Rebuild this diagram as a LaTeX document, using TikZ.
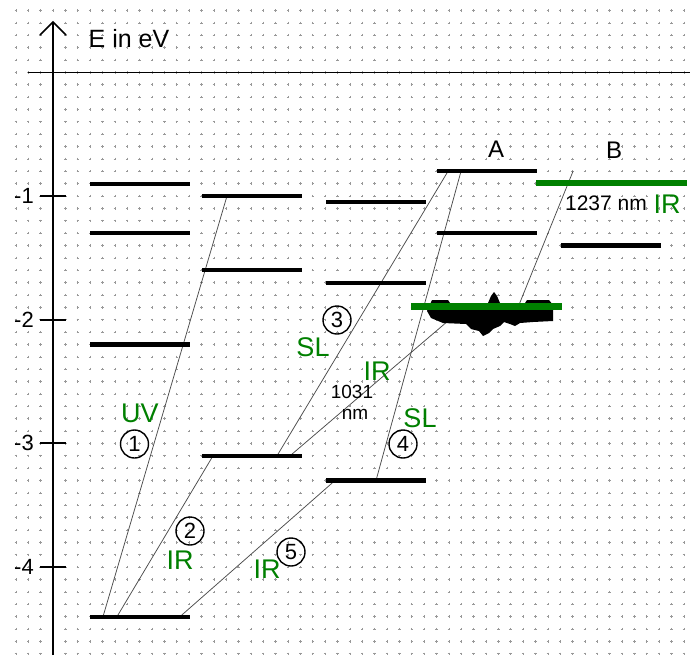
\documentclass[tikz,border=0pt]{standalone}
\usepackage{fontspec}
\setmainfont{Liberation Sans}
\definecolor{grn}{RGB}{0,128,0}
\begin{document}
\begin{tikzpicture}[x=1pt,y=-1pt,
  lvl/.style={draw=none,fill=black,inner sep=0pt,minimum width=100pt,minimum height=4.2pt},
  glvl/.style={draw=none,fill=grn,inner sep=0pt,minimum width=151pt,minimum height=6.5pt},
  trans/.style={line width=0.75pt,draw=black!70},
  glab/.style={text=grn,font=\fontsize{27}{27}\selectfont,inner sep=0pt},
  blab/.style={font=\fontsize{19}{19}\selectfont,inner sep=0pt},
  numc/.style={circle,draw,line width=1.4pt,minimum size=28pt,inner sep=0pt,font=\fontsize{22}{22}\selectfont},
  ticklab/.style={font=\fontsize{22}{22}\selectfont,inner sep=0pt,anchor=east},
  griddot/.style={line width=0.6pt,draw=black!40},
  axisline/.style={line width=2.2pt},
  tickline/.style={line width=2pt},
]
\fill[white] (0,0) rectangle (690,664);
\useasboundingbox (0,0) rectangle (690,664);
% dotted grid
\draw[griddot] \foreach \i in {-3,...,51}{\foreach \j in {-5,...,47}{
  ({53+\i*12.37},{72.3+\j*12.37}) +(-1.2,0) -- +(1.2,0) +(0,-1.2) -- +(0,1.2)}};
% axes
\coordinate (axbot) at (53,655);
\coordinate (axtop) at (53,22);
\coordinate (zl) at (28,72.3);
\coordinate (zr) at (690,72.3);
\draw[line width=1.6pt] (zl) -- (zr);
\draw[axisline] (axbot) -- (axtop);
\draw[line width=1.5pt] (40,35) -- (axtop) -- (66,35);
\node[font=\fontsize{25}{25}\selectfont,inner sep=0pt] (elab) at (129,38.5) {E in eV};
\foreach \e/\y in {1/196,2/319.7,3/443.4,4/567.1}{
  \draw[tickline] (40,\y) -- (66,\y);
  \node[ticklab] (t\e) at (34,\y) {-\e};
}
% transitions
\coordinate (t1a) at (103,616.6);  \coordinate (t1b) at (227,196);
\coordinate (t2a) at (117,616.6);  \coordinate (t2b) at (213,455.8);
\coordinate (t5a) at (180,616.6);  \coordinate (t5b) at (335,480.5);
\coordinate (t3a) at (277,455.8);  \coordinate (t3b) at (448,171.3);
\coordinate (tia) at (290,455.8);  \coordinate (tib) at (464,307.3);
\coordinate (t4a) at (376,480.5);  \coordinate (t4b) at (461,171.3);
\coordinate (tba) at (518,307.3);  \coordinate (tbb) at (573,171.3);
\draw[trans] (t1a) -- (t1b);
\draw[trans] (t2a) -- (t2b);
\draw[trans] (t5a) -- (t5b);
\draw[trans] (t3a) -- (t3b);
\draw[trans] (tia) -- (tib);
\draw[trans] (t4a) -- (t4b);
\draw[trans] (tba) -- (tbb);
% levels column 1
\node[lvl] (c1a) at (140,183.6) {};
\node[lvl] (c1b) at (140,233.1) {};
\node[lvl] (c1c) at (140,344.4) {};
\node[lvl] (c1d) at (140,616.6) {};
% column 2
\node[lvl] (c2a) at (251.5,196) {};
\node[lvl] (c2b) at (251.5,270.2) {};
\node[lvl] (c2c) at (251.5,455.8) {};
% column 3
\node[lvl] (c3a) at (375.5,202.2) {};
\node[lvl] (c3b) at (375.5,282.6) {};
\node[lvl] (c3c) at (375.5,480.5) {};
% column A
\node[lvl] (cAa) at (486.5,171.3) {};
\node[lvl] (cAb) at (486.5,233.1) {};
\fill[black] (427,311) -- (432,300) -- (448,300) -- (450,303) -- (488,303) -- (491,296) -- (494,292) -- (497,296) -- (500,303) -- (525,303) -- (527,300) -- (549,300) -- (553,305) -- (553,321) -- (533,322) -- (520,323) -- (515,326) -- (510,324) -- (504,322) -- (500,326) -- (493,329) -- (489,333) -- (483,336) -- (479,331) -- (471,329) -- (466,324) -- (443,323) -- (431,318) -- cycle;
\node[glvl] (gA) at (486.5,306.7) {};
% column B
\node[lvl] (cBa) at (610.5,245.5) {};
\node[glvl] (gB) at (611.5,183) {};
\node[font=\fontsize{24}{24}\selectfont,inner sep=0pt] (lA) at (496,149) {A};
\node[font=\fontsize{24}{24}\selectfont,inner sep=0pt] (lB) at (614,150) {B};
\node[font=\fontsize{21}{21}\selectfont,inner sep=0pt] (nm1237) at (606,203) {1237 nm};
\node[glab] (irB) at (667,204) {IR};
% labels
\node[glab] (uv) at (140,413) {UV};
\node[numc] (n1) at (134.5,444) {1};
\node[numc] (n2) at (190,531) {2};
\node[glab] (ir2) at (180,560) {IR};
\node[numc] (n5) at (291,552) {5};
\node[glab] (ir5) at (267,569) {IR};
\node[glab] (sl3) at (313,347) {SL};
\node[numc] (n3) at (337,320) {3};
\node[glab] (ir1031) at (377,371) {IR};
\node[blab] (w1031) at (352,391.5) {1031};
\node[blab] (wnm) at (355,414) {nm};
\node[glab] (sl4) at (420,418) {SL};
\node[numc] (n4) at (403,444) {4};
\end{tikzpicture}
\end{document}
